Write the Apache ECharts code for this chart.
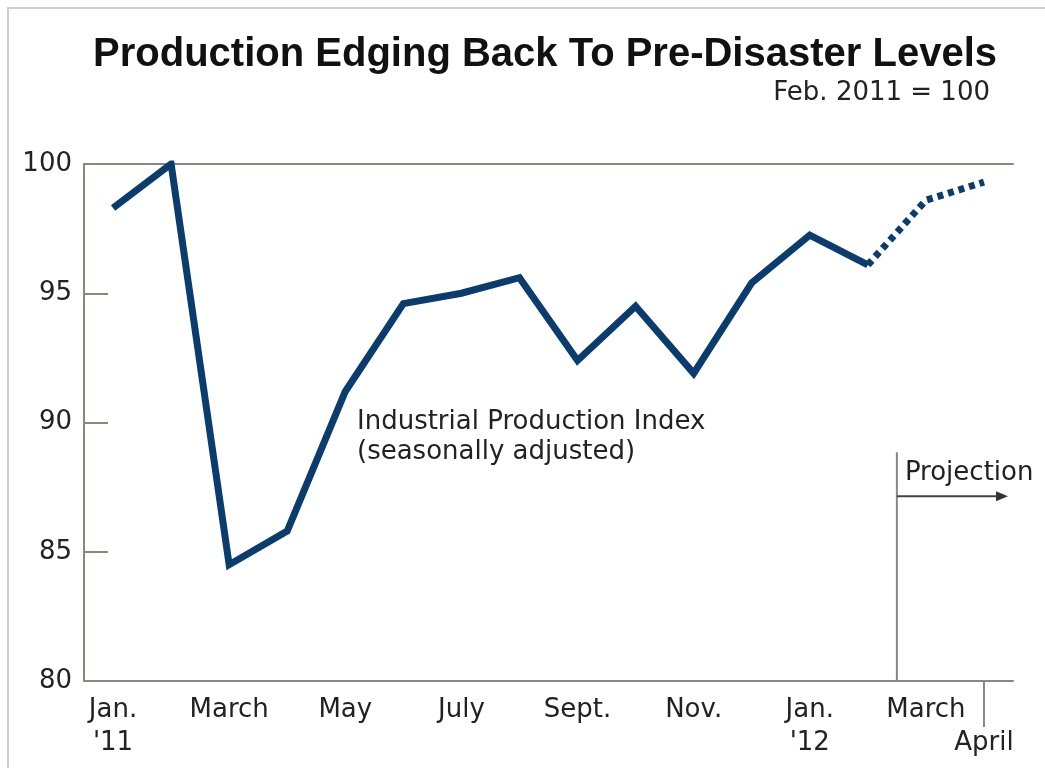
<!DOCTYPE html>
<html><head><meta charset="utf-8">
<script src="https://cdn.jsdelivr.net/npm/echarts@6/dist/echarts.min.js"></script>
<style>html,body{margin:0;padding:0;background:#fff}#c{width:1045px;height:768px}</style>
</head><body><div id="c"></div>
<script>
const months = ["Jan. '11","Feb. '11","March '11","April '11","May '11","June '11","July '11","Aug. '11","Sept. '11","Oct. '11","Nov. '11","Dec. '11","Jan. '12","Feb. '12","March '12","April '12"];
const tickLabels = ["Jan.\n'11","","March","","May","","July","","Sept.","","Nov.","","Jan.\n'12","","March","April"];
const actualValues = [98.3, 100, 84.5, 85.8, 91.2, 94.6, 95.0, 95.6, 92.4, 94.5, 91.9, 95.4, 97.25, 96.1, null, null];
const projectionValues = [null, null, null, null, null, null, null, null, null, null, null, null, null, 96.1, 98.6, 99.3];
const yTicks = [80, 85, 90, 95, 100];
const titleText = 'Production Edging Back To Pre-Disaster Levels';
const subtitleText = 'Feb. 2011 = 100';
const seriesNote = ['Industrial Production Index', '(seasonally adjusted)'];
const projectionText = 'Projection';

const AX = '#8b8682';
const LINE = '#0a3c6e';
const FONT = 'DejaVu Sans';
const chart = echarts.init(document.getElementById('c'), null, {renderer: 'canvas'});
chart.setOption({
  animation: false,
  grid: {left: 84, right: 32, top: 164, bottom: 87},
  xAxis: [{
    type: 'category', data: months, boundaryGap: true,
    axisLine: {lineStyle: {color: AX, width: 2}},
    axisTick: {alignWithLabel: true, inside: true, length: 13, interval: 0, lineStyle: {color: AX, width: 2}},
    axisLabel: {interval: 0, margin: 13, fontFamily: FONT, fontSize: 26, color: '#222', lineHeight: 33,
      formatter: (v, i) => i === 15 ? '\n' + tickLabels[i] : tickLabels[i]}
  }, {
    type: 'category', data: months, position: 'top',
    axisLine: {show: true, lineStyle: {color: AX, width: 2}},
    axisTick: {show: false}, axisLabel: {show: false}
  }],
  yAxis: {
    type: 'value', min: yTicks[0], max: yTicks[yTicks.length - 1], interval: 5,
    axisLine: {show: true, lineStyle: {color: AX, width: 2}},
    axisTick: {show: true, inside: true, length: 24, lineStyle: {color: AX, width: 2}},
    splitLine: {show: false},
    axisLabel: {margin: 12, fontFamily: FONT, fontSize: 26, color: '#222'}
  },
  series: [{
    type: 'line', data: actualValues, symbol: 'none', connectNulls: false,
    lineStyle: {color: LINE, width: 7, join: 'miter', cap: 'butt'}
  }, {
    type: 'line', data: projectionValues, symbol: 'none',
    lineStyle: {color: LINE, width: 7, type: [6, 5], cap: 'butt'}
  }]
});

const px = (i, v) => chart.convertToPixel({xAxisIndex: 0, yAxisIndex: 0}, [i, v]);
const p13 = px(13, 80), p14 = px(14, 80), p15 = px(15, 80);
const projX = (p13[0] + p14[0]) / 2;
const projTop = px(13, 88.85)[1];
const arrowY = px(13, 87.15)[1];
const axisY = p13[1];

chart.setOption({
  graphic: [
    {type: 'rect', shape: {x: 8, y: 8, width: 1200, height: 900}, style: {fill: 'none', stroke: '#cfcfcf', lineWidth: 2}},
    {type: 'text', x: 997, y: 55, style: {text: titleText, font: 'bold 40px "Liberation Sans", Arial, sans-serif', fill: '#111', align: 'right', verticalAlign: 'middle'}},
    {type: 'text', x: 990, y: 93, style: {text: subtitleText, font: '26px "DejaVu Sans"', fill: '#222', align: 'right', verticalAlign: 'middle'}},
    {type: 'text', x: 357, y: 407, style: {text: seriesNote.join('\n'), font: '26px "DejaVu Sans"', lineHeight: 30, fill: '#222', align: 'left', verticalAlign: 'top'}},
    {type: 'line', shape: {x1: projX, y1: projTop, x2: projX, y2: axisY}, style: {stroke: AX, lineWidth: 2}},
    {type: 'text', x: projX + 8, y: 473, style: {text: projectionText, font: '26px "DejaVu Sans"', fill: '#222', align: 'left', verticalAlign: 'middle'}},
    {type: 'line', shape: {x1: projX, y1: arrowY, x2: 1000, y2: arrowY}, style: {stroke: '#444', lineWidth: 2}},
    {type: 'polygon', shape: {points: [[1008, arrowY], [996, arrowY - 5], [996, arrowY + 5]]}, style: {fill: '#333'}},
    {type: 'line', shape: {x1: p15[0], y1: axisY, x2: p15[0], y2: axisY + 46}, style: {stroke: AX, lineWidth: 2}}
  ]
});
</script></body></html>
